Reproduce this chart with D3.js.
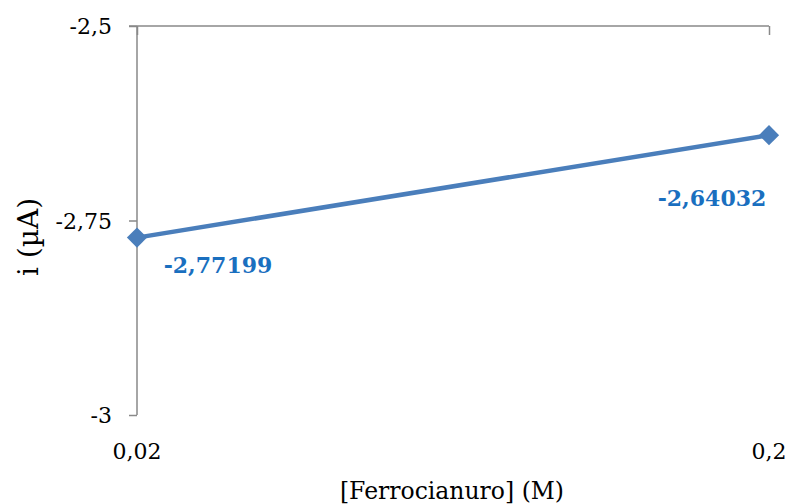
<!DOCTYPE html>
<html>
<head>
<meta charset="utf-8">
<script src="https://cdn.jsdelivr.net/npm/d3@7"></script>
<style>
  html, body { margin: 0; padding: 0; background: #fff; }
  svg { display: block; }
  text { font-family: "DejaVu Serif", "Liberation Serif", serif; }
</style>
</head>
<body>
<svg id="chart" width="788" height="504"></svg>
<script>
// Concentration categories and measured current
const categories = ["0,02", "0,2"];
const current = [-2.77199, -2.64032];
const valueLabels = ["-2,77199", "-2,64032"];
const yTicks = [-3, -2.75, -2.5];
const yTickLabels = ["-3", "-2,75", "-2,5"];

const svg = d3.select("#chart");
const margin = { left: 137, right: 19, top: 26, bottom: 89 };
const W = 788, H = 504;

const x = d3.scalePoint().domain(categories).range([margin.left, W - margin.right]);
const y = d3.scaleLinear().domain([-3, -2.5]).range([H - margin.bottom, margin.top]);

const axisColor = "#898989";

// Vertical value axis
const yAxis = d3.axisLeft(y).tickValues(yTicks).tickSize(8).tickPadding(17)
  .tickFormat((d, i) => yTickLabels[i]);
const gy = svg.append("g").attr("transform", `translate(${margin.left},0)`).call(yAxis);
gy.select(".domain").attr("stroke", axisColor).attr("stroke-width", 1.5).attr("d", `M0,${y(-3)}V${y(-2.5)}`);
gy.selectAll(".tick line").attr("stroke", axisColor).attr("stroke-width", 1.5);
gy.selectAll(".tick text").attr("fill", "#000").style("font-size", "22px")
  .style("font-family", "'DejaVu Serif', serif").attr("dy", "0.35em");

// Horizontal axis crosses at the top of the value range
const xAxis = d3.axisBottom(x).tickSize(9).tickFormat("");
const gx = svg.append("g").attr("transform", `translate(0,${y(-2.5)})`).call(xAxis);
gx.select(".domain").attr("stroke", axisColor).attr("stroke-width", 1.5)
  .attr("d", `M${margin.left - 8},0H${W - margin.right}`);
gx.selectAll(".tick line").attr("stroke", axisColor).attr("stroke-width", 1.5);

// Category labels sit below the plot
svg.append("g").selectAll("text").data(categories).join("text")
  .attr("x", d => x(d)).attr("y", 459)
  .attr("text-anchor", "middle")
  .style("font-size", "22px").attr("fill", "#000")
  .text(d => d);

// Series line
const pts = categories.map((c, i) => [x(c), y(current[i])]);
svg.append("path").attr("d", d3.line()(pts))
  .attr("fill", "none").attr("stroke", "#4a7ebb").attr("stroke-width", 4.5);

// Diamond markers
svg.append("g").selectAll("path").data(pts).join("path")
  .attr("transform", d => `translate(${d[0]},${d[1]})`)
  .attr("d", d3.symbol().type(d3.symbolDiamond2).size(260))
  .attr("fill", "#4a7ebb");

// Value labels
const labelPos = [
  { dx: 81, dy: 35 },
  { dx: -57, dy: 71 }
];
svg.append("g").selectAll("text").data(pts).join("text")
  .attr("x", (d, i) => d[0] + labelPos[i].dx)
  .attr("y", (d, i) => d[1] + labelPos[i].dy)
  .attr("text-anchor", "middle")
  .style("font-size", "22px").style("font-weight", "bold").attr("fill", "#1a6fbf")
  .text((d, i) => valueLabels[i]);

// Axis titles
svg.append("text").attr("transform", "translate(38,237) rotate(-90)")
  .attr("text-anchor", "middle").style("font-size", "28px").attr("fill", "#000")
  .text("i (µA)");
svg.append("text").attr("x", 452).attr("y", 499)
  .attr("text-anchor", "middle").style("font-size", "23.5px").attr("fill", "#000")
  .text("[Ferrocianuro] (M)");
</script>
</body>
</html>
